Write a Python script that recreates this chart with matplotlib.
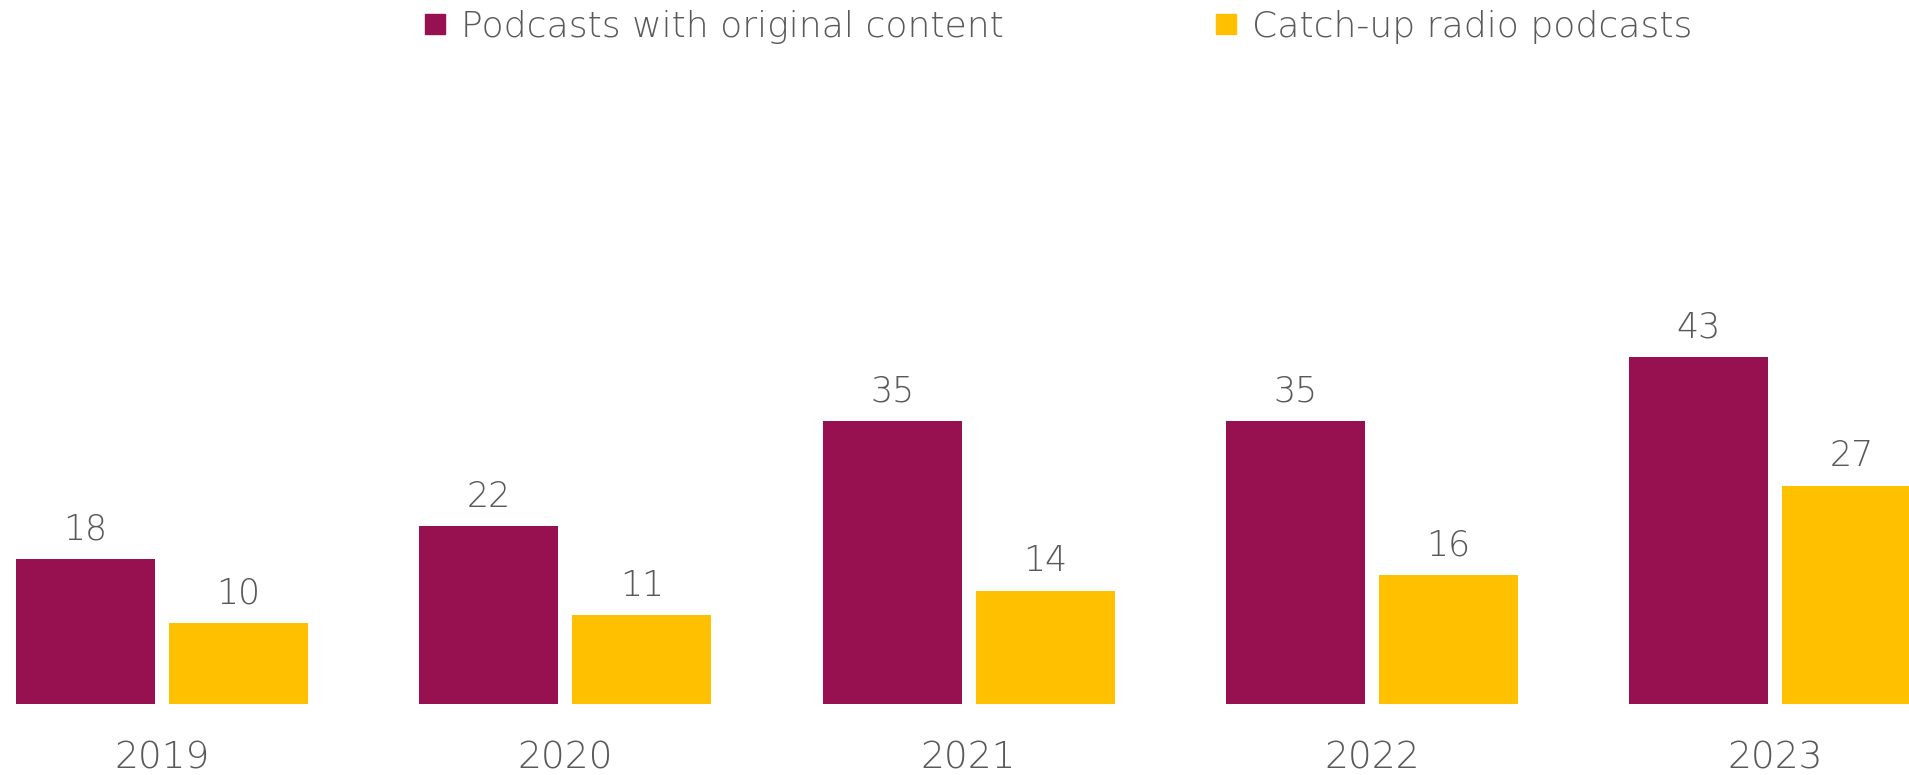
import matplotlib
matplotlib.use("Agg")
import matplotlib.pyplot as plt
from matplotlib.lines import Line2D
import numpy as np

years = ["2019", "2020", "2021", "2022", "2023"]
original = [18, 22, 35, 35, 43]
catchup = [10, 11, 14, 16, 27]
series_names = ["Podcasts with original content", "Catch-up radio podcasts"]
colors = ["#97104F", "#FFC000"]
text_color = "#595959"

plt.rcParams['font.family'] = ['DejaVu Sans']

W, H = 1909, 775
fig = plt.figure(figsize=(W / 100, H / 100), dpi=100)
base_px = 71
ax = fig.add_axes([0, base_px / H, 1, 1 - base_px / H])

px_per_unit = 8.08
group_px = 403.25
x = np.arange(len(years))
width = 139 / group_px
offset = 153 / group_px / 2

b1 = ax.bar(x - offset, original, width, color=colors[0])
b2 = ax.bar(x + offset, catchup, width, color=colors[1])

for bars in (b1, b2):
    for rect in bars:
        h = rect.get_height()
        ax.annotate(f"{h:g}", (rect.get_x() + rect.get_width() / 2, h),
                    xytext=(0, 9), textcoords="offset points",
                    ha="center", va="bottom", fontsize=25, color=text_color,
                    fontweight=200)

left = -162 / group_px
ax.set_xlim(left, left + W / group_px)
ax.set_ylim(0, (H - base_px) / px_per_unit)
ax.set_xticks(x)
ax.set_xticklabels(years, fontsize=27, color=text_color, fontweight=200)
ax.tick_params(axis="x", length=0, pad=26)
ax.set_yticks([])
for s in ax.spines.values():
    s.set_visible(False)
ax.patch.set_alpha(0)

handles = [Line2D([], [], marker="s", linestyle="none", markersize=15,
                  color=c) for c in colors]
fig.legend(handles, series_names, loc="upper left",
           bbox_to_anchor=(424 / W, 1 - 10 / H), ncol=2, frameon=False,
           labelcolor=text_color, handlelength=0.62,
           handletextpad=0.4, columnspacing=5.85, borderpad=0,
           borderaxespad=0, prop={"size": 26, "weight": 200})

fig.savefig("out.png", dpi=100, facecolor="white")
